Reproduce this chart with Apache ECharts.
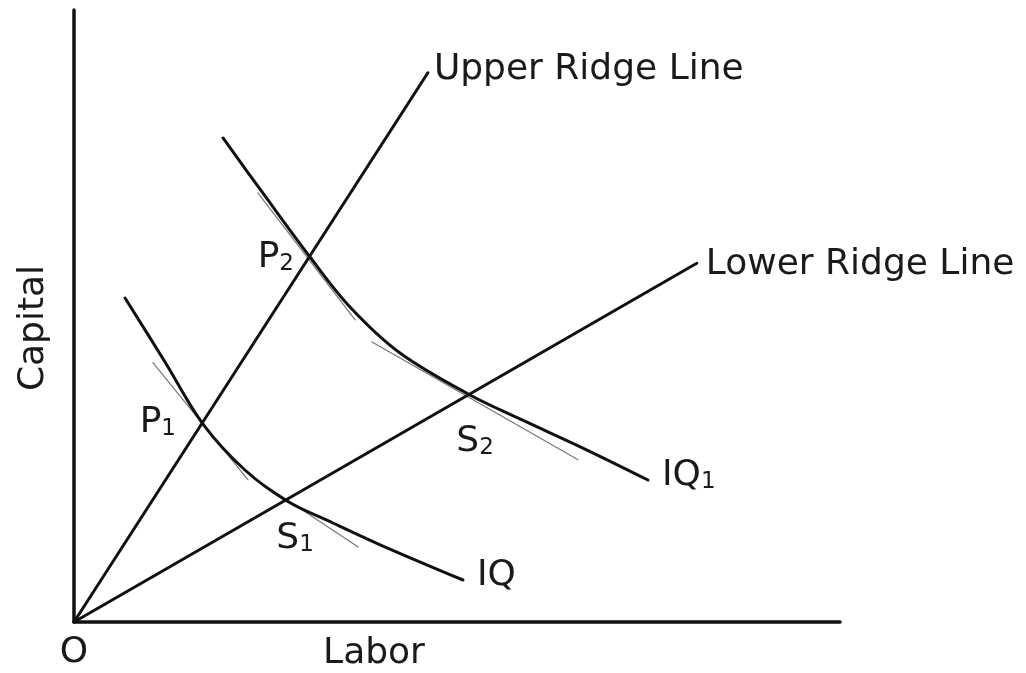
<!DOCTYPE html>
<html><head><meta charset="utf-8">
<script src="https://cdn.jsdelivr.net/npm/echarts@6/dist/echarts.min.js"></script>
<style>html,body{margin:0;padding:0;background:#fff}#c{width:1026px;height:673px}</style>
</head><body><div id="c"></div>
<script>
// Data (x = Labor, y = Capital)
const upperRidge = [[0, 0], [46.2, 71.8]];
const lowerRidge = [[0, 0], [81.3, 46.9]];
const iq = [[6.66, 42.35], [11.88, 33.99], [16.84, 25.88], [22.32, 19.87], [27.81, 15.82], [33.81, 12.94], [40.34, 9.93], [50.78, 5.49]];
const iq1 = [[19.45, 63.27], [24.93, 55.69], [30.81, 47.71], [36.03, 41.18], [42.56, 35.16], [51.70, 29.67], [58.22, 26.54], [66.97, 22.48], [74.93, 18.56]];
const tangentP1 = [[10.3, 33.9], [22.7, 18.6]];
const tangentS1 = [[24.9, 17.9], [37.1, 9.8]];
const tangentP2 = [[24.0, 56.1], [36.7, 39.5]];
const tangentS2 = [[38.9, 36.6], [65.8, 21.2]];
const xAxisName = 'Labor';
const yAxisName = 'Capital';
const originLabel = 'O';

const FONT = 'DejaVu Sans';
const TXT = '#1a1a1a';
const rich = { s: { fontSize: 23, fontFamily: FONT, color: TXT, verticalAlign: 'bottom', opacity: 1 } };

function lbl(point, text, extra) {
  return {
    value: point,
    label: Object.assign({ show: true, formatter: text, fontSize: 36, fontFamily: FONT, color: TXT, opacity: 1, rich: rich }, extra)
  };
}
const labelData = [
  lbl(upperRidge[upperRidge.length - 1], 'Upper Ridge Line', { position: 'right', distance: 6, offset: [0, -3] }),
  lbl(lowerRidge[lowerRidge.length - 1], 'Lower Ridge Line', { position: 'right', distance: 9, offset: [0, 1] }),
  lbl(iq[iq.length - 1], 'IQ', { position: 'right', distance: 14, offset: [0, -4] }),
  lbl(iq1[iq1.length - 1], 'IQ{s|1}', { position: 'right', distance: 14, offset: [0, -4] }),
  lbl(iq[2], 'P{s|1}', { position: 'left', distance: 27, offset: [0, -1] }),
  lbl(iq1[2], 'P{s|2}', { position: 'left', distance: 16, offset: [0, 1] }),
  lbl(iq[4], 'S{s|1}', { position: 'inside', offset: [8, 38] }),
  lbl(iq1[5], 'S{s|2}', { position: 'inside', offset: [5, 47] })
];

function lineSeries(data, w, color, smooth, z) {
  return { type: 'line', data: data, smooth: smooth, symbol: 'none', z: z,
    lineStyle: { width: w, color: color, cap: 'round' }, silent: true, animation: false };
}

const chart = echarts.init(document.getElementById('c'));
chart.setOption({
  animation: false,
  backgroundColor: '#fff',
  grid: { left: 74, top: 10, width: 766, height: 612, containLabel: false, outerBoundsMode: 'none' },
  xAxis: {
    type: 'value', min: 0, max: 100, interval: 100,
    axisLine: { show: true, onZero: false, lineStyle: { color: '#111', width: 3.5 } },
    axisTick: { show: false }, splitLine: { show: false },
    axisLabel: { show: true, margin: 13, fontSize: 36, fontFamily: FONT, color: TXT,
      formatter: function (v) { return v === 0 ? originLabel : ''; } },
    name: xAxisName, nameLocation: 'middle', nameGap: 14, nameMoveOverlap: false,
    nameTextStyle: { fontSize: 36, fontFamily: FONT, color: TXT, verticalAlign: 'top', padding: [0, 166, 0, 0] }
  },
  yAxis: {
    type: 'value', min: 0, max: 80, interval: 80,
    axisLine: { show: true, onZero: false, lineStyle: { color: '#111', width: 3.5 } },
    axisTick: { show: false }, splitLine: { show: false }, axisLabel: { show: false },
    name: yAxisName, nameLocation: 'middle', nameRotate: 90, nameGap: 22, nameMoveOverlap: false,
    nameTextStyle: { fontSize: 36, fontFamily: FONT, color: TXT, padding: [0, 24, 0, 0] }
  },
  series: [
    lineSeries(tangentP1, 1.2, '#777', false, 1),
    lineSeries(tangentS1, 1.2, '#777', false, 1),
    lineSeries(tangentP2, 1.2, '#777', false, 1),
    lineSeries(tangentS2, 1.2, '#777', false, 1),
    lineSeries(upperRidge, 3, '#111', false, 3),
    lineSeries(lowerRidge, 3, '#111', false, 3),
    lineSeries(iq, 3, '#111', 0.35, 3),
    lineSeries(iq1, 3, '#111', 0.35, 3),
    { type: 'scatter', symbolSize: 0, itemStyle: { opacity: 1 }, data: labelData, silent: true, z: 5, animation: false }
  ]
});
</script></body></html>
